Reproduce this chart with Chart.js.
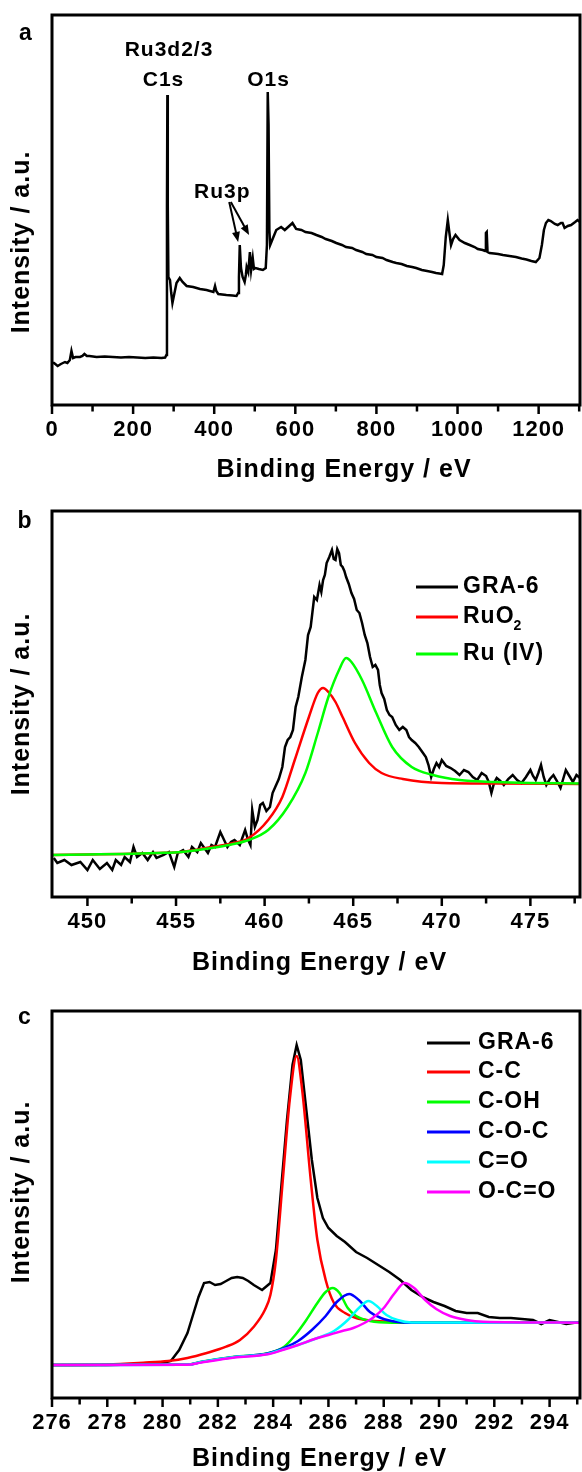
<!DOCTYPE html>
<html>
<head>
<meta charset="utf-8">
<script src="https://cdn.jsdelivr.net/npm/chart.js@4.4.0/dist/chart.umd.min.js"></script>
<style>
  html, body { margin: 0; padding: 0; background: #fff; }
  body { width: 582px; height: 1472px; position: relative; overflow: hidden; }
  .panel { position: absolute; left: 0; width: 582px; }
</style>
</head>
<body>
<div class="panel" style="top:0;height:496px"><canvas id="chartA"></canvas></div>
<div class="panel" style="top:496px;height:500px"><canvas id="chartB"></canvas></div>
<div class="panel" style="top:996px;height:476px"><canvas id="chartC"></canvas></div>
<script>
// ---- (a) survey spectrum ----
const surveyEnergy = [
  0, 5, 14, 22, 32, 38, 44, 48, 52, 58,
  69, 75, 80, 86, 92, 110, 130, 150, 170, 190,
  210, 230, 250, 270, 279, 282, 283.5, 284.5, 285.5, 287,
  291, 294, 297, 301, 307, 315, 322, 332, 348, 365,
  381, 398, 402, 405, 410, 430, 445, 455, 459, 461,
  463, 466, 470, 475, 478, 480, 484, 488, 491, 495,
  498, 502, 510, 520, 527, 530, 532, 534, 536, 538,
  545, 553, 565, 574, 585, 593, 602, 615, 625, 640,
  652, 665, 675, 690, 701, 715, 725, 740, 750, 765,
  775, 790, 800, 815, 825, 840, 849, 862, 875, 888,
  898, 912, 925, 937, 947, 955, 962, 966, 971, 976,
  980, 984, 989, 995, 1005, 1018, 1030, 1042, 1050, 1062,
  1068, 1070, 1072, 1074, 1079, 1090, 1100, 1112, 1128, 1144,
  1158, 1170, 1182, 1193, 1202, 1208, 1213, 1218, 1224, 1230,
  1240, 1247, 1255, 1259, 1264, 1272, 1280, 1290, 1296, 1302
];
const surveyIntensity = [
  42, 42, 39, 41, 43, 42, 45, 54, 47, 48,
  48, 49, 51, 49, 49, 48, 48.5, 48, 47.5, 48,
  47.5, 47, 47.5, 47, 47.5, 50, 200, 310, 200, 128,
  125, 112, 102, 110, 122, 127, 123, 119, 118, 116,
  115, 113, 119, 114, 111, 110, 109.5, 109, 112, 128,
  160, 137, 128, 123, 130, 138, 133, 153, 135, 147,
  136, 137, 136, 135, 137, 160, 313, 280, 175, 160,
  167, 175, 178, 175, 179, 182, 176, 175, 173, 172,
  170, 168, 166, 164, 162, 160, 158, 157, 155, 153,
  151, 150, 148, 147, 145, 143, 142, 141, 139, 138,
  137, 135, 134, 133, 132, 131.5, 131, 140, 168, 185,
  172, 160, 166, 170, 165, 162, 160, 158, 156, 155,
  154, 172, 173, 153, 152, 151.5, 151, 150, 149, 148,
  146.5, 145.5, 144, 143, 147, 160, 175, 182, 185, 184,
  181, 180, 182, 182, 177, 179, 180, 183, 185, 183
];
const ticksA = [0, 200, 400, 600, 800, 1000, 1200];

// ---- (b) Ru3p region ----
const ruEnergyGRA = [
  448.1, 448.3, 448.7, 449.1, 449.6, 450.0, 450.3, 450.7, 451.1, 451.4,
  451.6, 451.9, 452.1, 452.4, 452.6, 452.8, 453.1, 453.4, 453.7, 453.9,
  454.3, 454.6, 454.9, 455.1, 455.4, 455.7, 455.9, 456.2, 456.4, 456.8,
  457.0, 457.2, 457.5, 457.9, 458.1, 458.3, 458.6, 458.9, 459.05, 459.2,
  459.3, 459.45, 459.6, 459.75, 459.9, 460.1, 460.3, 460.45, 460.6, 460.8,
  461.0, 461.15, 461.3, 461.45, 461.6, 461.75, 461.9, 462.1, 462.3, 462.45,
  462.6, 462.7, 462.8, 462.95, 463.1, 463.2, 463.3, 463.4, 463.5, 463.65,
  463.8, 463.9, 464.0, 464.1, 464.2, 464.3, 464.4, 464.5, 464.6, 464.75,
  464.9, 465.05, 465.2, 465.35, 465.5, 465.65, 465.8, 465.95, 466.1, 466.25,
  466.4, 466.5, 466.6, 466.75, 466.9, 467.05, 467.2, 467.4, 467.6, 467.8,
  468.0, 468.15, 468.3, 468.5, 468.7, 468.9, 469.1, 469.25, 469.4, 469.55,
  469.7, 469.85, 470.0, 470.25, 470.5, 470.75, 471.0, 471.25, 471.5, 471.75,
  472.0, 472.25, 472.5, 472.65, 472.8, 472.95, 473.1, 473.3, 473.5, 473.75,
  474.0, 474.25, 474.5, 474.75, 475.0, 475.15, 475.3, 475.45, 475.6, 475.75,
  475.9, 476.1, 476.3, 476.5, 476.7, 476.85, 477.0, 477.2, 477.4, 477.6,
  477.8
];
const ruGRA = [
  39, 34, 37, 32, 35, 27, 37, 28, 34, 27,
  37, 32, 40, 35, 50, 40, 44, 37, 45, 39,
  42, 45, 30, 44, 47, 40, 50, 45, 54, 44,
  52, 50, 65, 50, 55, 57, 52, 67, 58, 52,
  87, 70, 77, 92, 94, 86, 90, 104, 110, 118,
  130, 150, 157, 160, 167, 190, 200, 220, 237, 262,
  270, 285, 300, 297, 312, 305, 317, 322, 334, 340,
  347, 338, 337, 348, 344, 332, 330, 326, 320, 313,
  304, 298, 287, 284, 274, 262, 254, 240, 230, 232,
  227, 212, 204, 198, 187, 182, 180, 172, 167, 170,
  167, 160, 157, 154, 150, 145, 140, 132, 120, 128,
  134, 130, 137, 131, 129, 126, 122, 127, 125, 120,
  117, 124, 121, 115, 104, 114, 119, 116, 112, 118,
  122, 117, 114, 120, 127, 121, 117, 124, 132, 120,
  112, 118, 122, 116, 109, 118, 127, 121, 115, 122,
  119
];
const ruEnergyRuO2 = [448, 450, 452, 454, 455.3, 457, 458, 459.1, 460.2, 461.0, 461.7, 462.5, 463.0, 463.3, 463.6, 464.0, 464.4, 465.1, 465.9, 466.6, 467.8, 470.0, 473.0, 477.8];
const ruRuO2 = [42, 42.5, 43, 44, 45, 50, 53, 59, 77, 100, 137, 180, 204, 209, 205, 195, 180, 154, 134, 124, 118, 114, 113.5, 113];
const ruEnergyRu4 = [448, 450, 452, 454, 455.3, 457, 458, 459.1, 460.2, 461.3, 462.3, 463.0, 463.6, 464.2, 464.6, 464.9, 465.5, 466.3, 467.2, 468.3, 469.5, 471, 473, 475, 477.8];
const ruRu4 = [42, 42.5, 43, 44, 45, 49, 52, 57, 67, 90, 124, 164, 200, 227, 239, 235, 217, 184, 150, 130, 122, 117, 115, 114, 113.5];
const ticksB = [450, 455, 460, 465, 470, 475];

// ---- (c) C1s region ----
const cEnergyGRA = [
  276, 278, 279, 280, 280.3, 280.6, 280.9, 281.1, 281.3, 281.5,
  281.7, 281.9, 282.1, 282.3, 282.5, 282.7, 282.9, 283.1, 283.3, 283.6,
  283.9, 284.1, 284.3, 284.5, 284.7, 284.85, 285.0, 285.2, 285.4, 285.6,
  285.8, 286.0, 286.3, 286.6, 287.0, 287.4, 287.8, 288.2, 288.6, 289.0,
  289.4, 289.8, 290.2, 290.6, 291.0, 291.4, 291.8, 292.2, 292.6, 293.0,
  293.4, 293.7, 294.0, 294.3, 294.6, 295.1
];
const cGRA = [
  33, 33, 33.5, 35, 37, 48, 65, 83, 101, 115,
  116, 113, 114, 117, 120, 121, 120, 117, 113, 108,
  115, 148, 213, 278, 333, 353, 338, 288, 238, 200,
  180, 170, 162, 156, 146, 140, 133, 126, 118, 108,
  101, 96, 92, 87, 85, 85, 81, 80, 80, 79,
  78, 74, 78, 76, 74, 76
];
const cEnergyCC = [276, 278, 279.3, 280.2, 280.9, 281.6, 282.3, 282.8, 283.3, 283.7, 283.9, 284.1, 284.35, 284.6, 284.85, 285.05, 285.36, 285.6, 285.9, 286.2, 286.6, 287.0, 287.5, 288.5, 290, 295.1];
const cCC = [33, 33.5, 35.3, 37, 40, 45, 51.3, 58, 71.3, 88, 103, 138, 218, 298, 342, 308, 218, 158, 118, 95, 85, 80, 77.5, 76, 75.5, 75.3];
const cEnergyCOH = [276, 280.9, 281.4, 282.6, 283.8, 284.4, 284.8, 285.2, 285.6, 285.9, 286.15, 286.4, 286.7, 287.0, 287.5, 288.3, 295.1];
const cCOH = [33, 33.5, 36.3, 41.3, 44.7, 51.3, 63, 78, 95, 106, 110, 105, 90, 82, 77, 75.3, 75.3];
const cEnergyCOC = [276, 280.9, 281.4, 282.6, 283.8, 284.4, 284.9, 285.4, 285.9, 286.3, 286.75, 287.1, 287.5, 287.9, 288.5, 289, 295.1];
const cCOC = [33, 33.3, 36, 41, 44.5, 50, 57, 68, 82, 96, 104, 98, 86, 80, 76, 75.3, 75.3];
const cEnergyCO = [276, 280.9, 281.4, 282.6, 283.8, 284.4, 285, 285.6, 286.2, 286.7, 287.1, 287.45, 287.75, 288.1, 288.5, 289, 295.1];
const cCO = [33, 33.2, 36, 41, 44, 49, 54, 60, 67, 78, 90, 97, 92, 83, 78, 75.5, 75.3];
const cEnergyOCO = [276, 280.9, 281.4, 282.6, 283.8, 284.4, 284.9, 285.5, 286.0, 286.5, 286.9, 287.3, 287.6, 288.0, 288.4, 288.75, 289.1, 289.5, 289.9, 290.4, 291, 291.6, 295.1];
const cOCO = [33, 33.2, 35.5, 40.5, 43.7, 48.5, 53, 59, 63, 67, 70, 75, 80, 90, 105, 115, 110, 98, 89, 82, 78, 76.3, 75.3];
const ticksC = [276, 278, 280, 282, 284, 286, 288, 290, 292, 294];

const FONT = '"Liberation Sans", Arial, Helvetica, sans-serif';

function pts(xs, ys) {
  return xs.map((x, i) => ({ x: x, y: ys[i] }));
}

function line(label, xs, ys, color, order, smooth) {
  return {
    label: label,
    data: pts(xs, ys),
    borderColor: color,
    borderWidth: 2.5,
    pointRadius: 0,
    fill: false,
    tension: 0,
    cubicInterpolationMode: smooth ? 'monotone' : 'default',
    order: order
  };
}

// frame, minor ticks, axis titles, panel letter, legend and labels
const decorPlugin = {
  id: 'decor',
  beforeDraw(chart) {
    chart.ctx.letterSpacing = '1px';
  },
  afterDraw(chart, args, o) {
    const ctx = chart.ctx;
    const ca = chart.chartArea;
    const xs = chart.scales.x;
    const ys = chart.scales.y;
    ctx.save();
    ctx.letterSpacing = '1px';
    ctx.strokeStyle = '#000';
    ctx.fillStyle = '#000';

    ctx.lineWidth = 3;
    ctx.strokeRect(ca.left, ca.top, ca.right - ca.left, ca.bottom - ca.top);

    // bottom ticks
    ctx.lineWidth = 2.5;
    ctx.beginPath();
    for (let i = 0; ; i++) {
      const v = o.minorStart + i * o.minorStep;
      if (v > xs.max + 1e-6) break;
      if (v < xs.min - 1e-6) continue;
      const px = xs.getPixelForValue(v);
      const major = o.major.some(t => Math.abs(t - v) < 1e-6);
      ctx.moveTo(px, ca.bottom);
      ctx.lineTo(px, ca.bottom + (major ? 9 : 6.5));
    }
    ctx.stroke();

    // axis titles
    ctx.font = 'bold 25px ' + FONT;
    ctx.textAlign = 'center';
    ctx.textBaseline = 'middle';
    ctx.fillText('Binding Energy / eV', o.xTitle[0], o.xTitle[1]);
    ctx.save();
    ctx.translate(o.yTitle[0], o.yTitle[1]);
    ctx.rotate(-Math.PI / 2);
    ctx.fillText('Intensity / a.u.', 0, 0);
    ctx.restore();

    // panel letter
    ctx.font = 'bold 23px ' + FONT;
    ctx.textBaseline = 'alphabetic';
    ctx.fillText(o.letter[0], o.letter[1], o.letter[2]);

    // legend
    if (o.legend) {
      o.legend.forEach((item, i) => {
        const ds = chart.data.datasets[item.ds];
        const yy = o.legendRows[i];
        ctx.strokeStyle = ds.borderColor;
        ctx.lineWidth = 3;
        ctx.beginPath();
        ctx.moveTo(o.legendLine[0], yy);
        ctx.lineTo(o.legendLine[1], yy);
        ctx.stroke();
        ctx.font = 'bold 23px ' + FONT;
        ctx.textAlign = 'left';
        ctx.textBaseline = 'middle';
        ctx.fillText(item.text, o.legendText, yy);
        if (item.sub) {
          const w = ctx.measureText(item.text).width;
          ctx.font = 'bold 14px ' + FONT;
          ctx.fillText(item.sub, o.legendText + w - 1, yy + 9);
        }
      });
    }

    // peak labels (data coordinates)
    if (o.labels) {
      ctx.font = 'bold 21px ' + FONT;
      ctx.textAlign = 'center';
      ctx.textBaseline = 'middle';
      o.labels.forEach(l => {
        ctx.fillText(l.text, xs.getPixelForValue(l.x), ys.getPixelForValue(l.y));
      });
    }
    if (o.arrows) {
      ctx.strokeStyle = '#000';
      ctx.lineWidth = 2;
      o.arrows.forEach(a => {
        const x0 = xs.getPixelForValue(a.from[0]), y0 = ys.getPixelForValue(a.from[1]);
        const x1 = xs.getPixelForValue(a.to[0]), y1 = ys.getPixelForValue(a.to[1]);
        const ang = Math.atan2(y1 - y0, x1 - x0);
        ctx.beginPath();
        ctx.moveTo(x0, y0);
        ctx.lineTo(x1 - 6 * Math.cos(ang), y1 - 6 * Math.sin(ang));
        ctx.stroke();
        ctx.beginPath();
        ctx.moveTo(x1, y1);
        ctx.lineTo(x1 - 10 * Math.cos(ang) + 4 * Math.sin(ang), y1 - 10 * Math.sin(ang) - 4 * Math.cos(ang));
        ctx.lineTo(x1 - 10 * Math.cos(ang) - 4 * Math.sin(ang), y1 - 10 * Math.sin(ang) + 4 * Math.cos(ang));
        ctx.closePath();
        ctx.fill();
      });
    }
    ctx.restore();
  }
};

function makeChart(id, datasets, xr, yMax, tickVals, axisHeight, decor) {
  return new Chart(document.getElementById(id), {
    type: 'line',
    data: { datasets: datasets },
    options: {
      responsive: true,
      maintainAspectRatio: false,
      animation: false,
      events: [],
      layout: { padding: { left: 0, right: 2, top: 15, bottom: 0 } },
      plugins: {
        legend: { display: false },
        tooltip: { enabled: false },
        decor: decor
      },
      scales: {
        x: {
          type: 'linear',
          min: xr[0],
          max: xr[1],
          border: { display: false },
          grid: { display: false, drawTicks: false },
          ticks: {
            autoSkip: false,
            maxRotation: 0,
            padding: 12,
            color: '#000',
            font: { family: FONT, size: 22, weight: 'bold' },
            callback: v => String(v)
          },
          afterBuildTicks: s => { s.ticks = tickVals.map(v => ({ value: v })); },
          afterFit: s => { s.height = axisHeight; }
        },
        y: {
          min: 0,
          max: yMax,
          border: { display: false },
          grid: { display: false, drawTicks: false },
          ticks: { display: false },
          afterFit: s => { s.width = 52; }
        }
      }
    },
    plugins: [decorPlugin]
  });
}

makeChart('chartA',
  [line('Survey', surveyEnergy, surveyIntensity, '#000000', 1, false)],
  [0, 1302], 390, ticksA, 91,
  {
    letter: ['a', 26, 40],
    xTitle: [344, 470],
    yTitle: [22, 242],
    minorStart: 0, minorStep: 100, major: ticksA,
    labels: [
      { text: 'Ru3d2/3', x: 288.5, y: 355 },
      { text: 'C1s', x: 275, y: 325 },
      { text: 'O1s', x: 534, y: 325 },
      { text: 'Ru3p', x: 420, y: 213 }
    ],
    arrows: [
      { from: [437, 203], to: [459, 163] },
      { from: [441, 203], to: [486, 170] }
    ]
  });

makeChart('chartB',
  [
    line('GRA-6', ruEnergyGRA, ruGRA, '#000000', 3, false),
    line('RuO2', ruEnergyRuO2, ruRuO2, '#ff0000', 2, true),
    line('Ru (IV)', ruEnergyRu4, ruRu4, '#00ff00', 1, true)
  ],
  [448, 477.8], 386, ticksB, 99,
  {
    letter: ['b', 25, 32],
    xTitle: [319.5, 467],
    yTitle: [22, 208],
    minorStart: 447.5, minorStep: 2.5, major: ticksB,
    legend: [
      { ds: 0, text: 'GRA-6' },
      { ds: 1, text: 'RuO', sub: '2' },
      { ds: 2, text: 'Ru (IV)' }
    ],
    legendRows: [91, 121, 158],
    legendLine: [416, 458],
    legendText: 463
  });

makeChart('chartC',
  [
    line('GRA-6', cEnergyGRA, cGRA, '#000000', 6, false),
    line('C-C', cEnergyCC, cCC, '#ff0000', 5, true),
    line('C-OH', cEnergyCOH, cCOH, '#00ff00', 4, true),
    line('C-O-C', cEnergyCOC, cCOC, '#0000ff', 3, true),
    line('C=O', cEnergyCO, cCO, '#00ffff', 2, true),
    line('O-C=O', cEnergyOCO, cOCO, '#ff00ff', 1, true)
  ],
  [276, 295.1], 387, ticksC, 74,
  {
    letter: ['c', 25, 28],
    xTitle: [319.5, 463],
    yTitle: [22, 196],
    minorStart: 276, minorStep: 1, major: ticksC,
    legend: [
      { ds: 0, text: 'GRA-6' },
      { ds: 1, text: 'C-C' },
      { ds: 2, text: 'C-OH' },
      { ds: 3, text: 'C-O-C' },
      { ds: 4, text: 'C=O' },
      { ds: 5, text: 'O-C=O' }
    ],
    legendRows: [47, 76, 106, 136, 166, 196],
    legendLine: [427, 470],
    legendText: 478
  });
</script>
</body>
</html>
